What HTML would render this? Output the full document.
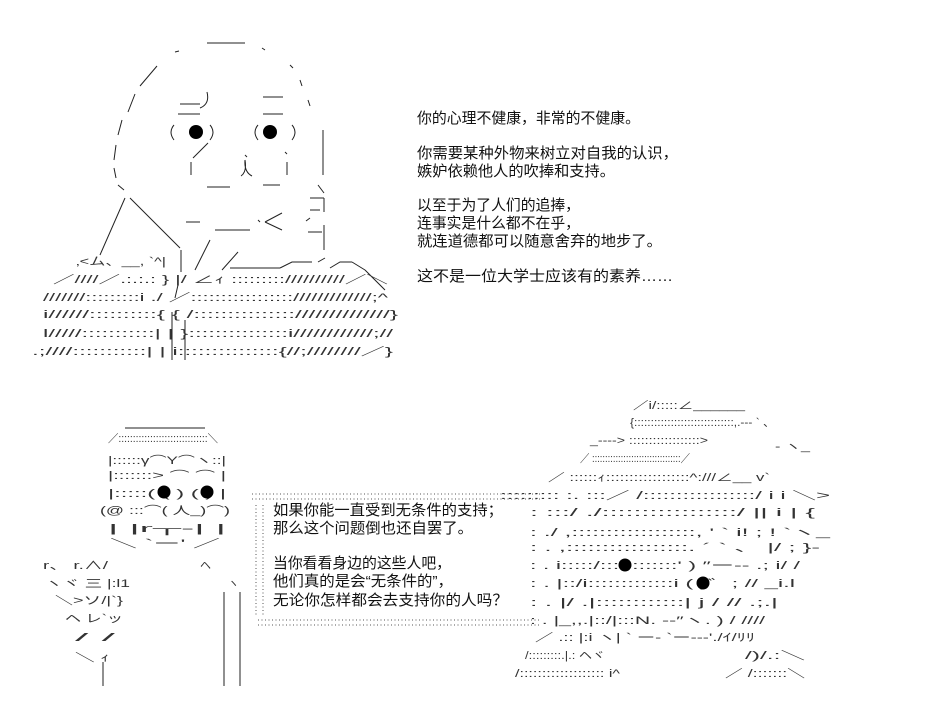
<!DOCTYPE html>
<html><head><meta charset="utf-8"><style>
html,body{margin:0;padding:0;background:#fff;}
svg{display:block;}
.a{font-family:"Liberation Sans","Noto Sans CJK JP",sans-serif;font-size:11px;fill:#333;}
.t{font-family:"Liberation Sans","Noto Sans CJK SC",sans-serif;font-size:15px;fill:#111;}
.l{stroke:#222;stroke-width:1;fill:none;}
.d{stroke:#555;stroke-width:1;stroke-dasharray:1 2.5;fill:none;}
</style></head><body>
<svg width="927" height="712" viewBox="0 0 927 712" xmlns="http://www.w3.org/2000/svg">
<!-- TOP FIGURE -->
<g class="l">
<path d="M207 43 H245 M175 52 l4 -1 M262 48 l3 2 M290 65 l3 3 M300 80 l2 6 M308 100 l2 6"/>
<path d="M157 66 L140 86 M135 94 L128 112 M122 120 L118 135 M116 145 L114 160 M114 168 L116 178 M118 185 L124 190"/>
<path d="M323 130 V175 M318 185 l6 8 M310 198 h14 M324 198 v14 M310 218 l-4 3 M308 232 h14 M324 225 v25"/>
<path d="M180 104 H200 M207 92 Q210 104 200 108 M178 114 H200 M263 97 H283 M263 114 H283"/>
<path d="M174 125 Q168 132 174 140 M210 125 Q216 132 210 140 M258 125 Q252 132 258 140 M292 125 Q298 132 292 140"/>
<path d="M208 143 L193 158 M191 162 V175 M287 162 V175 M245 160 Q247 172 241 176 M245 160 Q244 172 252 176"/>
<path d="M207 187 H230 M263 185 H280 M285 152 l2 2 M245 155 l2 2"/>
<path d="M125 198 L100 255 M130 198 L180 248 M210 240 L195 270 M186 222 H200 M215 230 H250 M265 222 L282 213 M265 222 L282 230 M258 220 l2 2 M310 210 h10"/>
<path d="M181 250 V272 M178 285 L175 298 M172 312 V360 M185 320 v40 M238 252 L222 270 M230 268 H280 M280 268 L292 262 H312 M318 262 L325 258 M330 268 L340 262 H352 M352 262 L365 270 M365 270 L385 290"/>
</g>
<circle cx="196" cy="132" r="7" fill="#000"/><circle cx="270" cy="132" r="7" fill="#000"/>
<text class="a" x="76" y="265" textLength="90" lengthAdjust="spacingAndGlyphs">‚&lt;ム、__,   `^|</text>
<text class="a" x="53" y="283" textLength="335" lengthAdjust="spacingAndGlyphs">／////／.:.:.:    }     |/          ∠ｨ ::::::::://////////／＼</text>
<text class="a" x="43" y="301" textLength="345" lengthAdjust="spacingAndGlyphs">///////:::::::::i      ./      ／::::::::::::::::://///////////;^</text>
<text class="a" x="43" y="318" textLength="355" lengthAdjust="spacingAndGlyphs">i//////::::::::::{      {       /::::::::::::::://////////////}</text>
<text class="a" x="43" y="337" textLength="350" lengthAdjust="spacingAndGlyphs">l/////:::::::::::|      |       }:::::::::::::::i////////////;//</text>
<text class="a" x="32" y="355" textLength="361" lengthAdjust="spacingAndGlyphs">.;////:::::::::::|      |       i:::::::::::::::{//;////////／}</text>

<!-- TOP TEXT -->
<text class="t" x="417" y="123" textLength="223" lengthAdjust="spacingAndGlyphs">你的心理不健康，非常的不健康。</text>
<text class="t" x="417" y="158" textLength="261" lengthAdjust="spacingAndGlyphs">你需要某种外物来树立对自我的认识，</text>
<text class="t" x="417" y="176" textLength="198" lengthAdjust="spacingAndGlyphs">嫉妒依赖他人的吹捧和支持。</text>
<text class="t" x="417" y="210" textLength="163" lengthAdjust="spacingAndGlyphs">以至于为了人们的追捧，</text>
<text class="t" x="417" y="228" textLength="163" lengthAdjust="spacingAndGlyphs">连事实是什么都不在乎，</text>
<text class="t" x="417" y="246" textLength="245" lengthAdjust="spacingAndGlyphs">就连道德都可以随意舍弃的地步了。</text>
<text class="t" x="417" y="281" textLength="256" lengthAdjust="spacingAndGlyphs">这不是一位大学士应该有的素养……</text>

<!-- BOTTOM LEFT FIGURE -->
<path class="l" d="M125 428 H205"/>
<text class="a" x="108" y="442" textLength="110" lengthAdjust="spacingAndGlyphs">／:::::::::::::::::::::::::::::::＼</text>
<text class="a" x="108" y="464" textLength="118" lengthAdjust="spacingAndGlyphs">|::::::γ⌒Y⌒ヽ::|</text>
<text class="a" x="108" y="479" textLength="118" lengthAdjust="spacingAndGlyphs">|:::::::&gt;   ⌒    ⌒  |</text>
<text class="a" x="108" y="497" textLength="118" lengthAdjust="spacingAndGlyphs">|:::::(  (    )  (    ) |</text>
<text class="a" x="100" y="514" textLength="130" lengthAdjust="spacingAndGlyphs">(@  :::⌒(  人_)⌒)</text>
<text class="a" x="108" y="532" textLength="118" lengthAdjust="spacingAndGlyphs">|          |r┬-|      |</text>
<text class="a" x="110" y="547" textLength="110" lengthAdjust="spacingAndGlyphs">＼        `ー'     ／</text>
<text class="a" x="43" y="569" textLength="65" lengthAdjust="spacingAndGlyphs">r、       r.∧/</text>
<text class="a" x="200" y="569">ヘ</text>
<text class="a" x="45" y="587" textLength="85" lengthAdjust="spacingAndGlyphs">ヽヾ   三   |:l1</text>
<text class="a" x="228" y="587">ヽ</text>
<text class="a" x="55" y="604" textLength="68" lengthAdjust="spacingAndGlyphs">＼&gt;ソ/|`}</text>
<text class="a" x="65" y="622" textLength="58" lengthAdjust="spacingAndGlyphs">ヘ  レ`ッ</text>
<text class="a" x="75" y="641" textLength="40" lengthAdjust="spacingAndGlyphs">/    /</text>
<text class="a" x="75" y="661" textLength="35" lengthAdjust="spacingAndGlyphs">＼  ｨ</text>
<path class="l" d="M224 592 V686 M240 592 V686 M103 662 V686"/>
<circle cx="164" cy="492" r="6.5" fill="#000"/><circle cx="207" cy="492" r="6.5" fill="#000"/>

<!-- SPEECH BOX -->
<path class="d" d="M252 494 H540 M252 499 H540 M258 620 H540 M258 625 H540 M256 505 V616 M263 505 V616"/>
<text class="t" x="273" y="515" textLength="230" lengthAdjust="spacingAndGlyphs">如果你能一直受到无条件的支持；</text>
<text class="t" x="273" y="533" textLength="200" lengthAdjust="spacingAndGlyphs">那么这个问题倒也还自罢了。</text>
<text class="t" x="273" y="568" textLength="178" lengthAdjust="spacingAndGlyphs">当你看看身边的这些人吧，</text>
<text class="t" x="273" y="586" textLength="180" lengthAdjust="spacingAndGlyphs">他们真的是会“无条件的”，</text>
<text class="t" x="273" y="605" textLength="235" lengthAdjust="spacingAndGlyphs">无论你怎样都会去支持你的人吗？</text>

<!-- RIGHT FIGURE -->
<text class="a" x="633" y="409" textLength="112" lengthAdjust="spacingAndGlyphs">／i/:::::∠______</text>
<text class="a" x="630" y="426" textLength="145" lengthAdjust="spacingAndGlyphs">{::::::::::::::::::::::::::::::,.-‐‐  ` 、</text>
<text class="a" x="590" y="444" textLength="118" lengthAdjust="spacingAndGlyphs">_‐‐‐‐&gt; ::::::::::::::::::&gt;</text>
<text class="a" x="775" y="450" textLength="35" lengthAdjust="spacingAndGlyphs">‐ ヽ_</text>
<text class="a" x="580" y="462" textLength="110" lengthAdjust="spacingAndGlyphs">／ ::::::::::::::::::::::::::::::::::／</text>
<text class="a" x="548" y="481" textLength="222" lengthAdjust="spacingAndGlyphs">／ ::::::ｨ::::::::::::::::::^:///∠__      v`</text>
<text class="a" x="500" y="499" textLength="330" lengthAdjust="spacingAndGlyphs">::::::::: :.  :::／ /:::::::::::::::::/          i           i        ＼&gt;</text>
<text class="a" x="530" y="516" textLength="285" lengthAdjust="spacingAndGlyphs">: :::/ ./:::::::::::::::::/          ||   i      |           {</text>
<text class="a" x="530" y="536" textLength="300" lengthAdjust="spacingAndGlyphs">: ./   ,::::::::::::::::::,    '  `       i!  ;     !        `ヽ_</text>
<text class="a" x="530" y="551" textLength="290" lengthAdjust="spacingAndGlyphs">: .   ,:::::::::::::::::.   ´       `   、   |/      ;       }‐</text>
<text class="a" x="530" y="569" textLength="270" lengthAdjust="spacingAndGlyphs">: .   i:::::/::::::::::::'    )      ″ー‐-  .;      i/      /</text>
<text class="a" x="530" y="587" textLength="265" lengthAdjust="spacingAndGlyphs">: .   |::/i:::::::::::::i          (      )゛;   //    _i.l</text>
<text class="a" x="530" y="606" textLength="248" lengthAdjust="spacingAndGlyphs">: .   |/ .|::::::::::::|       j          / // .;.|</text>
<text class="a" x="530" y="624" textLength="235" lengthAdjust="spacingAndGlyphs">: .   |_,,.|::/|:::N.  -‐″ヽ.      ) / ////</text>
<text class="a" x="535" y="641" textLength="220" lengthAdjust="spacingAndGlyphs">／  .:: |:i   ヽ|    ` ー-  `ー‐-‐'./ｲ/ﾘﾘ</text>
<text class="a" x="525" y="659" textLength="80" lengthAdjust="spacingAndGlyphs">/:::::::::.|.: ヘヾ</text>
<text class="a" x="745" y="659" textLength="60" lengthAdjust="spacingAndGlyphs">/)/.:＼</text>
<text class="a" x="515" y="677" textLength="105" lengthAdjust="spacingAndGlyphs">/::::::::::::::::::: i^</text>
<text class="a" x="725" y="677" textLength="80" lengthAdjust="spacingAndGlyphs">／ /:::::::＼</text>
<circle cx="625" cy="565" r="6.5" fill="#000"/><circle cx="703" cy="583" r="6.5" fill="#000"/>
</svg>
</body></html>
